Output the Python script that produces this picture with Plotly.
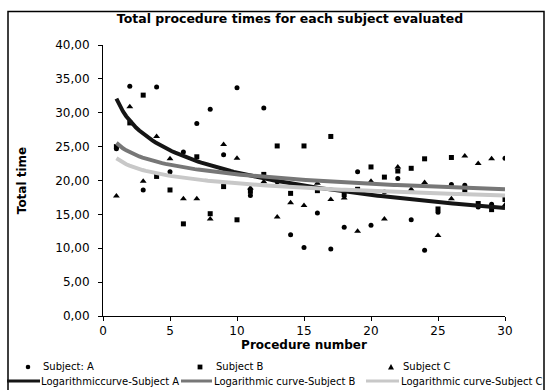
import numpy as np
import plotly.graph_objects as go

procedure = list(range(1, 31))
subject_a = [24.7, 33.9, 18.6, 33.8, 21.3, 24.2, 28.4, 30.5, 23.8, 33.7,
             17.8, 30.7, 19.8, 12.0, 10.1, 15.2, 9.9, 13.1, 21.3, 13.4,
             18.3, 20.3, 14.2, 9.7, 15.3, 19.4, 19.3, 16.1, 16.5, 23.3]
subject_b = [25.0, 28.5, 32.6, 20.6, 18.6, 13.6, 23.5, 15.1, 19.1, 14.2,
             18.4, 20.9, 25.1, 18.1, 25.1, 18.5, 26.5, 17.9, 18.7, 22.0,
             20.5, 21.4, 21.8, 23.2, 15.8, 23.4, 18.6, 16.6, 15.7, 17.2]
subject_c = [17.7, 30.9, 19.9, 26.5, 23.2, 17.3, 17.3, 14.3, 25.3, 23.3,
             18.9, 19.8, 14.6, 16.7, 16.3, 19.6, 17.2, 17.4, 12.5, 19.9,
             14.3, 22.0, 18.7, 19.7, 11.9, 17.3, 23.6, 22.5, 23.2, 16.4]

x_ticks = [0, 5, 10, 15, 20, 25, 30]
y_ticks = [0, 5, 10, 15, 20, 25, 30, 35, 40]

marker_names = ["Subject: A", "Subject B", "Subject C"]
curve_names = ["Logarithmiccurve-Subject A", "Logarithmic curve-Subject B",
               "Logarithmic curve-Subject C"]
curve_colors = ["#151515", "#777777", "#c8c8c8"]

FONT = "DejaVu Sans"

def log_fit(xs, ys):
    b, a = np.polyfit(np.log(xs), ys, 1)
    xf = np.linspace(min(xs), max(xs), 120)
    return xf, a + b * np.log(xf)

fig = go.Figure()
symbols = ["circle", "square", "triangle-up"]
sizes = [5, 5, 6]
for ys, nm, sym, sz in zip([subject_a, subject_b, subject_c], marker_names, symbols, sizes):
    fig.add_trace(go.Scatter(x=procedure, y=ys, mode="markers", name=nm,
                             marker=dict(symbol=sym, size=sz, color="black")))

for ys, nm, col in zip([subject_a, subject_b, subject_c], curve_names, curve_colors):
    xf, yf = log_fit(procedure, ys)
    fig.add_trace(go.Scatter(x=xf, y=yf, mode="lines", name=nm,
                             line=dict(color=col, width=4)))

W, H = 546, 390
L, R, T, B = 103, 41, 45, 74
pw, ph = W - L - R, H - T - B

def px(xp):
    return (xp - L) / pw

def py(yp):
    return (H - B - yp) / ph

shapes = [dict(type="rect", xref="paper", yref="paper",
               x0=px(8), x1=px(544), y0=py(400), y1=py(11.5),
               line=dict(color="black", width=1.5), fillcolor="rgba(0,0,0,0)",
               layer="below")]
annotations = []

# manual legend: row 1 markers, row 2 curves
row1_y, row2_y = 367, 381
text_x = [41, 214, 401]
marker_x = [28, 200, 391]
line_x = [(7, 40), (181, 212), (366, 399)]

# circle
cx, r = marker_x[0], 2.3
shapes.append(dict(type="circle", xref="paper", yref="paper",
                   x0=px(cx - r), x1=px(cx + r), y0=py(row1_y + r), y1=py(row1_y - r),
                   fillcolor="black", line=dict(width=0)))
# square
cx, r = marker_x[1], 2.4
shapes.append(dict(type="rect", xref="paper", yref="paper",
                   x0=px(cx - r), x1=px(cx + r), y0=py(row1_y + r), y1=py(row1_y - r),
                   fillcolor="black", line=dict(width=0)))
# triangle
cx = marker_x[2]
tri = "M {:.5f},{:.5f} L {:.5f},{:.5f} L {:.5f},{:.5f} Z".format(
    px(cx - 3), py(row1_y + 2.5), px(cx + 3), py(row1_y + 2.5), px(cx), py(row1_y - 3))
shapes.append(dict(type="path", xref="paper", yref="paper", path=tri,
                   fillcolor="black", line=dict(width=0)))

for (x0, x1), col in zip(line_x, curve_colors):
    shapes.append(dict(type="line", xref="paper", yref="paper",
                       x0=px(x0), x1=px(x1), y0=py(row2_y), y1=py(row2_y),
                       line=dict(color=col, width=3)))

for tx, nm in zip(text_x, marker_names):
    annotations.append(dict(text=nm, xref="paper", yref="paper", x=px(tx), y=py(row1_y),
                            xanchor="left", yanchor="middle", showarrow=False,
                            font=dict(family=FONT, size=10, color="black")))
for tx, nm in zip(text_x, curve_names):
    annotations.append(dict(text=nm, xref="paper", yref="paper", x=px(tx - 2), y=py(row2_y),
                            xanchor="left", yanchor="middle", showarrow=False,
                            font=dict(family=FONT, size=10, color="black")))

fig.update_layout(
    width=W, height=H,
    margin=dict(l=L, r=R, t=T, b=B, autoexpand=False),
    paper_bgcolor="white", plot_bgcolor="white",
    separators=",.",
    showlegend=False,
    font=dict(family=FONT, color="black", size=12),
    title=dict(text="<b>Total procedure times for each subject evaluated</b>",
               font=dict(family=FONT, size=12.5, color="black"),
               x=290 / W, xanchor="center", xref="container",
               y=1 - 19 / H, yanchor="middle", yref="container"),
    xaxis=dict(range=[0, 30], tickvals=x_ticks, showline=True, linecolor="black",
               linewidth=1, ticks="outside", ticklen=4, tickcolor="black",
               showgrid=False, zeroline=False,
               tickfont=dict(family=FONT, size=12),
               title=dict(text="<b>Procedure number</b>",
                          font=dict(family=FONT, size=12), standoff=2)),
    yaxis=dict(range=[0, 40], tickvals=y_ticks, tickformat=".2f", showline=True,
               linecolor="black", linewidth=1, ticks="outside", ticklen=4,
               tickcolor="black", showgrid=False, zeroline=False,
               ticklabelstandoff=6,
               tickfont=dict(family=FONT, size=12),
               title=dict(text="<b>Total time</b>",
                          font=dict(family=FONT, size=12), standoff=26)),
    shapes=shapes,
    annotations=annotations,
)

fig.write_html("out.html", config={"displayModeBar": False},
               post_script="document.body.style.margin='0px';")
